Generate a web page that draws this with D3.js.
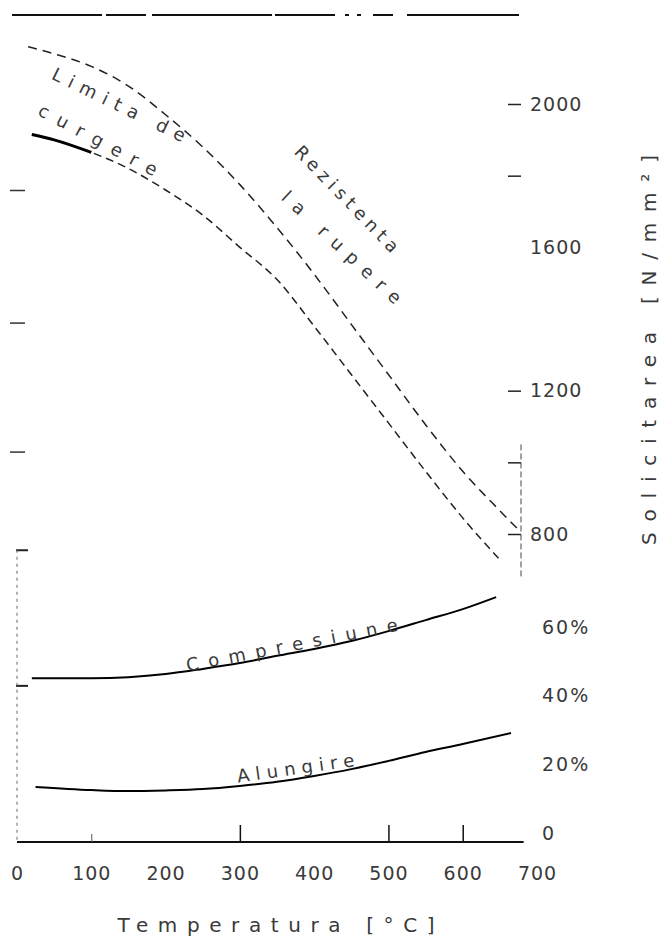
<!DOCTYPE html>
<html><head><meta charset="utf-8">
<script src="https://cdn.jsdelivr.net/npm/d3@7"></script>
<style>
html,body{margin:0;padding:0;background:#fff;}
svg{display:block;background:#fff;}
text{font-family:"DejaVu Sans",sans-serif;fill:#3a3a3a;}
</style></head><body>
<svg id="c" width="662" height="940"></svg>
<script>
// ---------- data ----------
const xTickLabels = [0, 100, 200, 300, 400, 500, 600, 700];
const xTickMarks = [300, 500, 600];
const xTickMinor = [100];
const stressLabels = [800, 1200, 1600, 2000];
const stressTicks = [800, 1000, 1200, 1800, 2000];
const stressLeftTicks = [1760, 1390, 1030];
const pctLabels = [0, 20, 40, 60];
const pctLeftTicks = [82.5, 43];

const rupTemp   = [15, 50, 100, 150, 200, 250, 300, 350, 400, 450, 500, 550, 600, 650, 675];
const rupStress = [2160, 2140, 2105, 2050, 1970, 1880, 1775, 1655, 1525, 1385, 1245, 1105, 975, 865, 812];
const yieldTemp   = [20, 50, 100, 150, 200, 250, 300, 350, 400, 450, 500, 550, 600, 650];
const yieldStress = [1915, 1900, 1865, 1820, 1760, 1690, 1600, 1510, 1380, 1245, 1110, 975, 845, 728];
const yieldSolidUntil = 110;
const compTemp = [20, 100, 150, 200, 250, 300, 350, 400, 450, 500, 550, 600, 645];
const compPct  = [45.1, 45.1, 45.4, 46.3, 47.8, 49.5, 51.6, 53.6, 55.9, 58.8, 62.0, 65.2, 68.7];
const elongTemp = [25, 100, 150, 200, 250, 300, 350, 400, 450, 500, 550, 600, 665];
const elongPct  = [13.4, 12.5, 12.2, 12.4, 12.8, 13.7, 14.9, 16.6, 18.6, 21.0, 23.6, 25.9, 29.1];

// ---------- scales ----------
const svg = d3.select("#c");
const x = d3.scaleLinear().domain([0, 700]).range([17, 537]);
const yS = d3.scaleLinear().domain([800, 2000]).range([534, 104]);
const yP = d3.scaleLinear().domain([0, 60]).range([833, 627]);
const baseY = 842;

// top frame line
svg.append("line").attr("x1", 12).attr("x2", 519).attr("y1", 15).attr("y2", 15)
  .attr("stroke", "#111").attr("stroke-width", 2)
  .attr("stroke-dasharray", "90,4,40,6,120,3,60,10,4,8,4,12,20,14,130,0");

// x axis baseline
svg.append("line").attr("x1", x(0)).attr("x2", x(682)).attr("y1", baseY).attr("y2", baseY)
  .attr("stroke", "#111").attr("stroke-width", 2);

// x tick marks
const gxt = svg.append("g").attr("transform", `translate(0,${baseY})`)
  .call(d3.axisTop(x).tickValues(xTickMarks).tickSize(17).tickFormat(""));
gxt.select(".domain").remove();
gxt.selectAll("line").attr("stroke", "#111").attr("stroke-width", 1.5);
const gxm = svg.append("g").attr("transform", `translate(0,${baseY})`)
  .call(d3.axisTop(x).tickValues(xTickMinor).tickSize(8).tickFormat(""));
gxm.select(".domain").remove();
gxm.selectAll("line").attr("stroke", "#555").attr("stroke-width", 1);

// x labels
const gxl = svg.append("g").attr("transform", `translate(0,${baseY})`)
  .call(d3.axisBottom(x).tickValues(xTickLabels).tickSize(0).tickPadding(25).tickFormat(d3.format("d")));
gxl.select(".domain").remove();
gxl.selectAll("text").style("font-size", "19px").style("fill", "#3a3a3a")
  .style("font-family", "DejaVu Sans, sans-serif").attr("letter-spacing", 1);

svg.append("text").attr("x", 276).attr("y", 932).attr("text-anchor", "middle")
  .attr("textLength", 317).attr("lengthAdjust", "spacing")
  .style("font-size", "20px").text("Temperatura [°C]");

// right stress axis: ticks
const axR = 521;
const gst = svg.append("g").attr("transform", `translate(${axR},0)`)
  .call(d3.axisLeft(yS).tickValues(stressTicks).tickSize(13).tickFormat(""));
gst.select(".domain").remove();
gst.selectAll("line").attr("stroke", "#222").attr("stroke-width", 1.5);
svg.append("line").attr("x1", axR).attr("x2", axR).attr("y1", yS(1050)).attr("y2", yS(680))
  .attr("stroke", "#444").attr("stroke-width", 1).attr("stroke-dasharray", "6,3");

const gsl = svg.append("g").attr("transform", `translate(${axR},0)`)
  .call(d3.axisRight(yS).tickValues(stressLabels).tickSize(0).tickPadding(9).tickFormat(d3.format("d")));
gsl.select(".domain").remove();
gsl.selectAll("text").style("font-size", "19px").style("fill", "#3a3a3a")
  .style("font-family", "DejaVu Sans, sans-serif").attr("letter-spacing", 1);

// percent labels
const gpl = svg.append("g").attr("transform", `translate(${axR},0)`)
  .call(d3.axisRight(yP).tickValues(pctLabels).tickSize(0).tickPadding(21)
    .tickFormat(d => d === 0 ? "0" : d + "%"));
gpl.select(".domain").remove();
gpl.selectAll("text").style("font-size", "19px").style("fill", "#3a3a3a")
  .style("font-family", "DejaVu Sans, sans-serif").attr("letter-spacing", 2);

// y title
svg.append("text").attr("transform", "translate(656,350) rotate(-90)")
  .attr("text-anchor", "middle").attr("textLength", 390).attr("lengthAdjust", "spacing")
  .style("font-size", "20px").text("Solicitarea [N/mm²]");

// left ticks
const gls = svg.append("g").attr("transform", "translate(10,0)")
  .call(d3.axisRight(yS).tickValues(stressLeftTicks).tickSize(15).tickFormat(""));
gls.select(".domain").remove();
gls.selectAll("line").attr("stroke", "#333").attr("stroke-width", 1.5);
const glp = svg.append("g").attr("transform", "translate(16,0)")
  .call(d3.axisRight(yP).tickValues(pctLeftTicks).tickSize(12).tickFormat(""));
glp.select(".domain").remove();
glp.selectAll("line").attr("stroke", "#222").attr("stroke-width", 2);
svg.append("line").attr("x1", 17).attr("x2", 17).attr("y1", yP(pctLeftTicks[0])).attr("y2", baseY)
  .attr("stroke", "#666").attr("stroke-width", 1).attr("stroke-dasharray", "3,4");

// ---------- curves ----------
const lineS = d3.line().x(d => x(d[0])).y(d => yS(d[1])).curve(d3.curveMonotoneX);
const lineP = d3.line().x(d => x(d[0])).y(d => yP(d[1])).curve(d3.curveMonotoneX);
const rup = d3.zip(rupTemp, rupStress);
const yld = d3.zip(yieldTemp, yieldStress);
const comp = d3.zip(compTemp, compPct);
const elong = d3.zip(elongTemp, elongPct);

svg.append("path").datum(rup).attr("d", lineS).attr("fill", "none")
  .attr("stroke", "#222").attr("stroke-width", 1.5).attr("stroke-dasharray", "9,6");
svg.append("path").datum(yld).attr("d", lineS).attr("fill", "none")
  .attr("stroke", "#222").attr("stroke-width", 1.5).attr("stroke-dasharray", "8,5");
svg.append("path").datum(yld.filter(d => d[0] <= yieldSolidUntil)).attr("d", lineS).attr("fill", "none")
  .attr("stroke", "#000").attr("stroke-width", 3);
svg.append("path").datum(comp).attr("d", lineP).attr("fill", "none")
  .attr("stroke", "#000").attr("stroke-width", 2);
svg.append("path").datum(elong).attr("d", lineP).attr("fill", "none")
  .attr("stroke", "#000").attr("stroke-width", 2);

// ---------- curve labels ----------
function label(txt, t, v, scale, ang, len) {
  svg.append("text")
    .attr("transform", `translate(${x(t)},${scale(v)}) rotate(${ang})`)
    .attr("text-anchor", "middle").attr("dy", "0.35em")
    .attr("textLength", len).attr("lengthAdjust", "spacing")
    .style("font-size", "18px").text(txt);
}
label("Limita de", 137, 1998, yS, 26, 146);
label("curgere", 109, 1900, yS, 28, 132);
label("Rezistenta", 444, 1735, yS, 46, 141);
label("la rupere", 437, 1600, yS, 43, 156);
label("Compresiune", 370, 54.8, yP, -11, 215);
label("Alungire", 375, 18.9, yP, -8, 118);
</script>
</body></html>
